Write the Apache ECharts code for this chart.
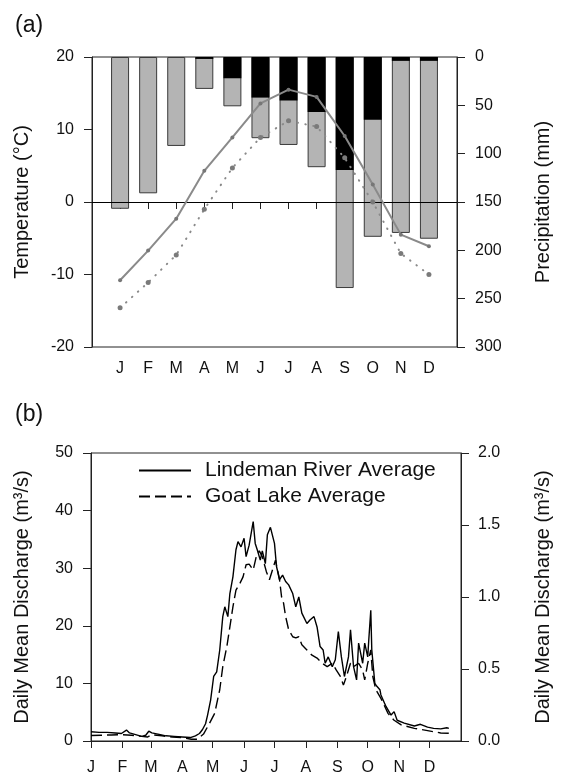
<!DOCTYPE html>
<html>
<head>
<meta charset="utf-8">
<script src="https://cdn.jsdelivr.net/npm/echarts@6/dist/echarts.min.js"></script>
<style>
  html, body { margin: 0; padding: 0; background: #fff; }
  #chartPanel { width: 561px; height: 777px; }
</style>
</head>
<body>
<div id="chartPanel"></div>
<script>
// panel (a) monthly climate
var months = ['J', 'F', 'M', 'A', 'M', 'J', 'J', 'A', 'S', 'O', 'N', 'D'];
var monthPos = [1, 2, 3, 4, 5, 6, 7, 8, 9, 10, 11, 12];
var tempSolid = [-10.8, -6.7, -2.3, 4.3, 8.9, 13.6, 15.5, 14.5, 9.1, 2.4, -4.5, -6.1];
var tempDotted = [-14.6, -11.1, -7.3, -1.0, 4.7, 8.9, 11.2, 10.4, 6.1, 0.0, -7.1, -10.0];
var totalPrecip = [157, 141, 92, 33, 51, 84, 91, 114, 239, 186, 182, 188];
var rainPrecip = [0, 0, 0, 2, 22, 42, 45, 57, 117, 65, 4, 4];

// panel (b) daily discharge
var monthStartDay = [0, 31, 59, 90, 120, 151, 181, 212, 243, 273, 304, 334];
var lindemanDay = [0, 8, 16, 24, 30, 35, 38, 44, 50, 54, 57, 60, 66, 74, 82, 90, 98, 103, 107, 110,
  113, 115, 118, 121, 124, 127, 130, 132, 135, 137, 140, 143, 145, 148, 151, 153, 156, 160, 162, 164,
  167, 169, 172, 174, 177, 181, 183, 186, 189, 192, 195, 199, 202, 205, 208, 213, 216, 220, 223, 226,
  229, 231, 234, 238, 241, 244, 247, 250, 254, 256, 259, 262, 264, 268, 270, 273, 274, 276, 277, 280,
  282, 285, 286, 291, 296, 299, 302, 309, 319, 325, 332, 338, 345, 351, 353];
var lindemanQ = [1.6, 1.5, 1.5, 1.4, 1.3, 1.9, 1.4, 1.1, 0.8, 1.0, 1.7, 1.4, 1.2, 0.9, 0.8, 0.7, 0.6, 0.9, 1.3, 2.0,
  3.0, 4.5, 7.1, 11.2, 12.0, 15.8, 21.6, 23.3, 21.6, 25.6, 28.5, 33.2, 34.6, 33.7, 35.2, 32.0, 34.0, 38.1, 34.3, 33.2,
  31.4, 33.0, 30.8, 35.8, 37.1, 34.3, 30.3, 28.0, 28.8, 27.7, 27.1, 25.6, 23.3, 25.0, 22.2, 20.4, 21.0, 21.6, 19.8, 16.4,
  15.8, 13.5, 14.6, 12.9, 14.1, 19.0, 14.6, 11.2, 14.6, 19.3, 12.9, 10.6, 17.0, 13.5, 17.0, 14.6, 17.5, 22.7, 15.8, 10.0,
  9.5, 8.9, 8.0, 6.0, 4.5, 5.1, 3.6, 3.1, 2.6, 2.9, 2.4, 2.2, 2.1, 2.3, 2.2];
var goatDay = [0, 10, 20, 30, 40, 50, 56, 60, 70, 80, 90, 99, 105, 111, 117, 122, 127, 130, 134, 137,
  140, 143, 147, 150, 153, 156, 160, 163, 166, 169, 173, 176, 179, 182, 186, 188, 190, 192, 195, 199,
  202, 205, 208, 213, 218, 223, 228, 233, 238, 242, 246, 249, 252, 256, 259, 264, 268, 270, 273, 276,
  278, 281, 286, 293, 299, 306, 319, 332, 345, 357];
var goatQ = [0.038, 0.04, 0.042, 0.044, 0.04, 0.032, 0.028, 0.044, 0.036, 0.028, 0.024, 0.012, 0.012, 0.048, 0.124, 0.192, 0.356, 0.516, 0.656, 0.792,
  0.932, 1.048, 1.096, 1.14, 1.224, 1.228, 1.188, 1.28, 1.32, 1.28, 1.176, 1.12, 1.188, 1.256, 1.12, 1.0, 0.956, 0.864, 0.772, 0.724,
  0.716, 0.724, 0.668, 0.632, 0.596, 0.576, 0.54, 0.516, 0.54, 0.492, 0.448, 0.388, 0.448, 0.54, 0.516, 0.54, 0.492, 0.424, 0.54, 0.632,
  0.448, 0.356, 0.296, 0.192, 0.144, 0.112, 0.088, 0.072, 0.056, 0.052];

function pairs(xs, ys) {
  return ys.map(function (v, i) { return [xs[i], v]; });
}

var chartPanel = echarts.init(document.getElementById('chartPanel'), null, { renderer: 'canvas' });

var fontFamily = 'Liberation Sans, Arial, sans-serif';
var axisColor = '#222';
var tickLabel = { color: '#111', fontSize: 16, fontFamily: fontFamily };
var nameStyle = { color: '#111', fontSize: 20, fontFamily: fontFamily };

var option = {
  animation: false,
  backgroundColor: '#fff',
  title: [
    { text: '(a)', left: 10, top: 9, textStyle: { fontSize: 23, fontWeight: 'normal', color: '#111', fontFamily: fontFamily } },
    { text: '(b)', left: 10, top: 398, textStyle: { fontSize: 23, fontWeight: 'normal', color: '#111', fontFamily: fontFamily } }
  ],
  legend: {
    data: ['Lindeman River Average', 'Goat Lake Average'],
    orient: 'vertical',
    left: 138,
    top: 460,
    padding: 0,
    itemWidth: 52,
    itemHeight: 20,
    itemGap: 5,
    itemStyle: { opacity: 0 },
    textStyle: { fontSize: 21, color: '#111', fontFamily: fontFamily, padding: [0, 0, 0, 9] }
  },
  grid: [
    { left: 92, right: 95, top: 57, height: 290, show: true, borderColor: axisColor, borderWidth: 1 },
    { left: 91, right: 95, top: 453, height: 288, show: true, borderColor: axisColor, borderWidth: 1 }
  ],
  xAxis: [
    {
      gridIndex: 0, type: 'value', min: 0, max: 13, interval: 1,
      axisLine: { lineStyle: { color: axisColor } },
      axisTick: { length: 7, lineStyle: { color: axisColor }, customValues: monthPos },
      axisLabel: Object.assign({ margin: 14, customValues: monthPos, formatter: function (v) { return months[v - 1] || ''; } }, tickLabel),
      splitLine: { show: false }
    },
    {
      gridIndex: 1, type: 'value', min: 0, max: 365,
      axisLine: { lineStyle: { color: axisColor } },
      axisTick: { length: 7, lineStyle: { color: axisColor }, customValues: monthStartDay },
      axisLabel: Object.assign({
        margin: 19, customValues: monthStartDay,
        formatter: function (v) { var i = monthStartDay.indexOf(v); return i >= 0 ? months[i] : ''; }
      }, tickLabel),
      splitLine: { show: false }
    }
  ],
  yAxis: [
    {
      gridIndex: 0, type: 'value', min: -20, max: 20, interval: 10,
      name: 'Temperature (°C)', nameLocation: 'middle', nameGap: 60, nameTextStyle: nameStyle,
      axisLine: { show: true, lineStyle: { color: axisColor } },
      axisTick: { show: true, length: 8, lineStyle: { color: axisColor } },
      axisLabel: Object.assign({ margin: 18 }, tickLabel),
      splitLine: { show: false }
    },
    {
      gridIndex: 0, type: 'value', min: 0, max: 300, interval: 50, inverse: true, position: 'right',
      name: 'Precipitation (mm)', nameLocation: 'middle', nameGap: 76, nameTextStyle: nameStyle,
      axisLine: { show: true, lineStyle: { color: axisColor } },
      axisTick: { show: true, length: 8, lineStyle: { color: axisColor } },
      axisLabel: Object.assign({ margin: 18 }, tickLabel),
      splitLine: { show: false }
    },
    {
      gridIndex: 1, type: 'value', min: 0, max: 50, interval: 10,
      name: 'Daily Mean Discharge (m³/s)', nameLocation: 'middle', nameGap: 59, nameTextStyle: nameStyle,
      axisLine: { show: true, lineStyle: { color: axisColor } },
      axisTick: { show: true, length: 8, lineStyle: { color: axisColor } },
      axisLabel: Object.assign({ margin: 18 }, tickLabel),
      splitLine: { show: false }
    },
    {
      gridIndex: 1, type: 'value', min: 0, max: 2, interval: 0.5, position: 'right',
      name: 'Daily Mean Discharge (m³/s)', nameLocation: 'middle', nameGap: 72, nameTextStyle: nameStyle,
      axisLine: { show: true, lineStyle: { color: axisColor } },
      axisTick: { show: true, length: 8, lineStyle: { color: axisColor } },
      axisLabel: Object.assign({ margin: 17, formatter: function (v) { return v.toFixed(1); } }, tickLabel),
      splitLine: { show: false }
    }
  ],
  series: [
    {
      // total precipitation (grey), rain drawn over it in black
      type: 'bar', xAxisIndex: 0, yAxisIndex: 1, barWidth: 18, barGap: '-100%',
      itemStyle: { color: '#b4b4b4', borderColor: '#3a3a3a', borderWidth: 1 },
      data: pairs(monthPos, totalPrecip), z: 2
    },
    {
      type: 'bar', xAxisIndex: 0, yAxisIndex: 1, barWidth: 18, barGap: '-100%',
      itemStyle: { color: '#000' },
      data: pairs(monthPos, rainPrecip), z: 3
    },
    {
      type: 'line', xAxisIndex: 0, yAxisIndex: 0,
      symbol: 'circle', symbolSize: 4,
      lineStyle: { color: '#8a8a8a', width: 2 },
      itemStyle: { color: '#777' },
      data: pairs(monthPos, tempSolid), z: 5,
      markLine: {
        silent: true, symbol: 'none', label: { show: false },
        lineStyle: { color: '#000', width: 1, type: 'solid' },
        data: [{ yAxis: 0 }]
      }
    },
    {
      type: 'line', xAxisIndex: 0, yAxisIndex: 0,
      symbol: 'circle', symbolSize: 5,
      lineStyle: { color: '#8a8a8a', width: 2, type: [0.5, 7.5], cap: 'round' },
      itemStyle: { color: '#7a7a7a' },
      data: pairs(monthPos, tempDotted), z: 5
    },
    {
      name: 'Lindeman River Average', type: 'line', xAxisIndex: 1, yAxisIndex: 2,
      symbol: 'none', lineStyle: { color: '#000', width: 1.4 },
      itemStyle: { color: '#000' },
      data: pairs(lindemanDay, lindemanQ)
    },
    {
      name: 'Goat Lake Average', type: 'line', xAxisIndex: 1, yAxisIndex: 3,
      symbol: 'none', lineStyle: { color: '#000', width: 1.4, type: [11, 5] },
      itemStyle: { color: '#000' },
      data: pairs(goatDay, goatQ)
    }
  ]
};

chartPanel.setOption(option);
</script>
</body>
</html>
